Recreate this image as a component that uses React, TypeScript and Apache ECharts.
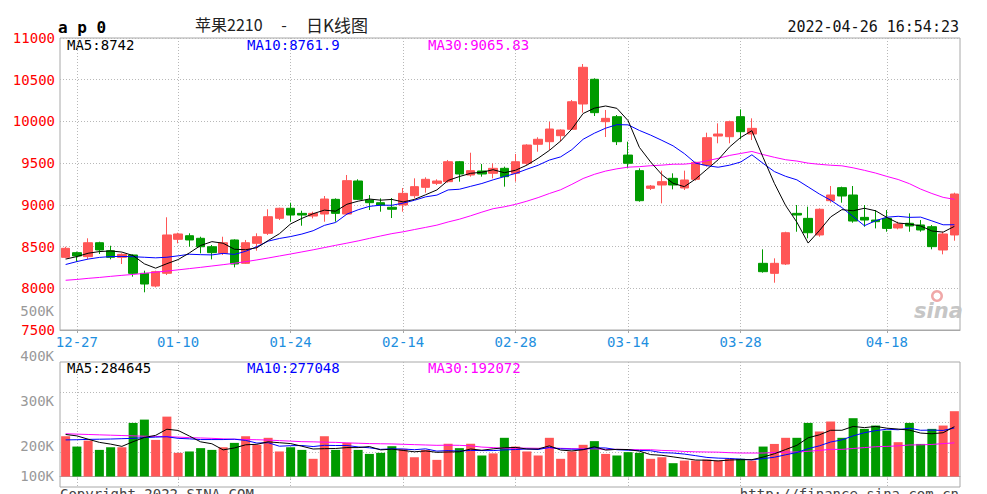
import React, { useEffect, useRef } from 'react';
import * as echarts from 'echarts';

// ---------- data ----------
const dates = [
  '12-24', '12-27', '12-28', '12-29', '12-30', '12-31', '01-04', '01-05', '01-06', '01-07',
  '01-10', '01-11', '01-12', '01-13', '01-14', '01-17', '01-18', '01-19', '01-20', '01-21',
  '01-24', '01-25', '01-26', '01-27', '01-28', '02-07', '02-08', '02-09', '02-10', '02-11',
  '02-14', '02-15', '02-16', '02-17', '02-18', '02-21', '02-22', '02-23', '02-24', '02-25',
  '02-28', '03-01', '03-02', '03-03', '03-04', '03-07', '03-08', '03-09', '03-10', '03-11',
  '03-14', '03-15', '03-16', '03-17', '03-18', '03-21', '03-22', '03-23', '03-24', '03-25',
  '03-28', '03-29', '03-30', '03-31', '04-01', '04-06', '04-07', '04-08', '04-11', '04-12',
  '04-13', '04-14', '04-15', '04-18', '04-19', '04-20', '04-21', '04-22', '04-25', '04-26',
];

const dateTicks = ['12-27', '01-10', '01-24', '02-14', '02-28', '03-14', '03-28', '04-18'];

const opens = [
  8371, 8427, 8379, 8546, 8450, 8371, 8399, 8179, 8027, 8180,
  8587, 8630, 8599, 8498, 8419, 8579, 8299, 8539, 8659, 8839,
  8959, 8898, 8866, 8890, 9066, 8890, 9286, 9058, 9026, 8971,
  8998, 9110, 9210, 9258, 9278, 9517, 9358, 9406, 9378, 9438,
  9378, 9498, 9726, 9757, 9829, 9906, 10209, 10505, 9997, 10057,
  9597, 9410, 9198, 9238, 9318, 9202, 9306, 9478, 9825, 9817,
  10057, 9849, 8299, 8179, 8291, 8898, 8838, 8639, 9050, 9206,
  9118, 8850, 8818, 8838, 8723, 8779, 8759, 8738, 8459, 8639,
];
const closes = [
  8479, 8387, 8546, 8459, 8371, 8407, 8179, 8051, 8199, 8639,
  8651, 8579, 8498, 8427, 8546, 8291, 8546, 8618, 8858, 8959,
  8878, 8878, 8898, 9070, 8898, 9290, 9066, 9026, 8998, 8947,
  9138, 9218, 9306, 9286, 9517, 9370, 9410, 9370, 9438, 9338,
  9517, 9717, 9786, 9909, 9897, 10236, 10649, 10105, 10037, 9757,
  9498, 9050, 9226, 9278, 9238, 9298, 9510, 9805, 9849, 9997,
  9877, 9917, 8199, 8299, 8666, 8878, 8666, 8947, 9118, 9106,
  8806, 8818, 8798, 8718, 8771, 8747, 8699, 8499, 8651, 9130,
];
const lows = [
  8359, 8319, 8351, 8411, 8347, 8291, 8139, 7952, 8011, 8159,
  8539, 8498, 8419, 8347, 8399, 8251, 8291, 8450, 8639, 8818,
  8798, 8750, 8838, 8798, 8798, 8878, 9058, 8938, 8918, 8842,
  8918, 9078, 9146, 9238, 9266, 9278, 9338, 9338, 9318, 9218,
  9278, 9478, 9637, 9658, 9757, 9897, 10105, 10065, 9813, 9717,
  9438, 9038, 9178, 9018, 9186, 9178, 9290, 9458, 9738, 9738,
  9786, 9777, 8187, 8067, 8279, 8678, 8599, 8618, 9026, 9026,
  8786, 8738, 8718, 8678, 8707, 8678, 8678, 8467, 8407, 8570,
];
const highs = [
  8498, 8439, 8599, 8558, 8510, 8419, 8407, 8211, 8211, 8851,
  8666, 8659, 8618, 8519, 8618, 8587, 8579, 8659, 8947, 8966,
  9026, 8930, 8918, 9106, 9078, 9358, 9306, 9118, 9078, 9082,
  9202, 9318, 9330, 9306, 9538, 9526, 9625, 9490, 9498, 9458,
  9610, 9726, 9810, 9997, 9905, 10257, 10688, 10517, 10137, 10077,
  9757, 9438, 9238, 9410, 9378, 9410, 9517, 9865, 9977, 10009,
  10145, 10037, 8467, 8359, 8678, 8998, 8978, 8958, 9226, 9218,
  9226, 8998, 8938, 8938, 8798, 8898, 8818, 8758, 8678, 9146,
];

const ma5 = [
  8350, 8380, 8420, 8440, 8448, 8434, 8392, 8293, 8241, 8295,
  8344, 8424, 8513, 8559, 8540, 8468, 8462, 8486, 8572, 8654,
  8772, 8838, 8894, 8937, 8924, 9007, 9044, 9070, 9056, 9065,
  9035, 9065, 9121, 9179, 9293, 9339, 9378, 9391, 9421, 9385,
  9415, 9476, 9559, 9653, 9765, 9909, 10095, 10159, 10185, 10157,
  10009, 9689, 9514, 9362, 9258, 9218, 9310, 9426, 9540, 9692,
  9808, 9889, 9568, 9258, 8992, 8792, 8542, 8691, 8855, 8943,
  8929, 8959, 8929, 8849, 8782, 8770, 8747, 8687, 8673, 8742,
];
const ma10 = [
  8285, 8320, 8350, 8370, 8380, 8382, 8378, 8372, 8365, 8372,
  8389, 8408, 8403, 8400, 8418, 8406, 8443, 8499, 8565, 8597,
  8620, 8650, 8690, 8754, 8789, 8889, 8941, 8982, 8996, 8995,
  9021, 9055, 9096, 9117, 9179, 9187, 9222, 9256, 9300, 9339,
  9377, 9427, 9475, 9537, 9575, 9662, 9786, 9859, 9919, 9961,
  9959, 9892, 9836, 9773, 9707, 9614, 9500, 9470, 9451, 9475,
  9513, 9600, 9497, 9399, 9342, 9300, 9215, 9130, 9056, 8967,
  8860, 8750, 8810, 8852, 8863, 8850, 8853, 8808, 8761, 8761.9,
];
const ma30 = [
  8096, 8106, 8119, 8130, 8143, 8155, 8166, 8179, 8193, 8207,
  8221, 8236, 8251, 8267, 8283, 8300, 8319, 8340, 8363, 8387,
  8411, 8436, 8461, 8488, 8515, 8541, 8568, 8598, 8627, 8655,
  8677, 8704, 8730, 8757, 8795, 8828, 8869, 8913, 8954, 8977,
  9006, 9044, 9087, 9136, 9181, 9246, 9316, 9366, 9405, 9432,
  9452, 9458, 9469, 9476, 9487, 9488, 9502, 9528, 9557, 9592,
  9616, 9640, 9603, 9570, 9541, 9525, 9500, 9486, 9475, 9468,
  9444, 9414, 9381, 9341, 9304, 9254, 9189, 9136, 9090, 9065.83,
];

// volumes in thousands (K)
const volumes = [
  230, 171, 205, 152, 167, 167, 306, 325, 209, 342,
  135, 143, 162, 152, 167, 192, 230, 181, 221, 143,
  167, 152, 101, 230, 152, 192, 152, 129, 135, 173,
  158, 110, 152, 95, 187, 162, 187, 120, 132, 221,
  171, 143, 120, 221, 101, 143, 181, 202, 129, 120,
  139, 135, 101, 110, 76, 91, 91, 97, 91, 101,
  101, 91, 171, 186, 221, 221, 306, 257, 314, 221,
  333, 272, 291, 262, 196, 306, 186, 272, 291, 373,
];
const volMa5 = [
  240, 232, 213, 195, 185, 172, 199, 223, 235, 270,
  263, 231, 198, 187, 152, 163, 181, 184, 198, 193,
  188, 173, 157, 159, 160, 165, 165, 171, 152, 156,
  149, 141, 146, 138, 140, 141, 157, 150, 158, 164,
  166, 157, 157, 175, 151, 146, 153, 170, 151, 155,
  154, 145, 125, 121, 112, 103, 94, 93, 89, 94,
  96, 96, 111, 130, 154, 178, 221, 238, 264, 264,
  286, 279, 286, 276, 271, 265, 248, 244, 250, 284.645,
];
const volMa10 = [
  209, 210, 212, 213, 214, 216, 218, 222, 225, 227,
  218, 215, 211, 211, 211, 213, 206, 191, 193, 173,
  176, 177, 171, 178, 177, 177, 169, 164, 155, 158,
  157, 153, 158, 145, 148, 145, 149, 148, 148, 152,
  154, 157, 154, 166, 158, 156, 155, 164, 163, 153,
  150, 149, 147, 136, 134, 128, 119, 109, 105, 103,
  99, 95, 102, 110, 124, 137, 159, 175, 197, 209,
  232, 250, 262, 270, 267, 276, 264, 265, 263, 277.048,
];
const volMa30 = [
  244, 242, 240, 238, 236, 234, 232, 230, 229, 228,
  225, 222, 220, 218, 215, 213, 211, 210, 208, 205,
  202, 199, 198, 196, 195, 192, 190, 188, 187, 186,
  184, 182, 180, 178, 179, 178, 175, 168, 165, 161,
  162, 162, 161, 163, 161, 159, 158, 158, 155, 155,
  154, 153, 153, 149, 147, 143, 141, 140, 139, 136,
  134, 134, 134, 137, 139, 140, 144, 149, 155, 155,
  160, 165, 170, 172, 175, 180, 181, 183, 188, 192.072,
];

// axis settings
const priceMin = 7500;
const priceMax = 11000;
const priceStep = 500;
const volMin = -60;
const volMax = 654;
const volGuides = [136, 307, 479];
const volLabelMin = 100;
const volLabelMax = 500;
const volLabelStep = 100;

const symbolName = 'a p 0';
const titleLeft = '苹果2210';
const titleDash = '-';
const titleRight = '日K线图';
const timestamp = '2022-04-26 16:54:23';
const copyright = 'Copyright 2022 SINA.COM';
const siteUrl = 'http://finance.sina.com.cn';

// ---------- styles ----------
const UP = '#ff5656';
const DOWN = '#009a00';
const MONO = "'DejaVu Sans Mono', monospace";
const GRID_LINE = { color: '#b8b8b8', type: [1, 2], width: 1 };
const BORDER = '#a8a8a8';

const showDate = (_i: number, v: string) => dateTicks.indexOf(v) >= 0;

function txt(text: string, x: number, y: number, font: string, fill: string, align = 'left', vAlign = 'middle') {
  return {
    type: 'text',
    x,
    y,
    silent: true,
    style: {
      text,
      font,
      fill,
      align,
      verticalAlign: vAlign,
      textAlign: align,
      textVerticalAlign: vAlign,
    },
  };
}

const last = (a: number[]) => a[a.length - 1];

export default function App() {
  const ref = useRef<HTMLDivElement>(null);

  useEffect(() => {
    if (!ref.current) return;
    const chart = echarts.init(ref.current, null, { renderer: 'svg' });

    const candleData = dates.map((_, i) => [opens[i], closes[i], lows[i], highs[i]]);
    const volData = volumes.map((v, i) => ({
      value: v,
      itemStyle: { color: closes[i] >= opens[i] ? UP : DOWN },
    }));

    const lineSeries = (data: number[], color: string, xi: number, yi: number) => ({
      type: 'line',
      xAxisIndex: xi,
      yAxisIndex: yi,
      data,
      symbol: 'none',
      showSymbol: false,
      silent: true,
      lineStyle: { color, width: 1 },
      z: 3,
    });

    const option: any = {
      animation: false,
      backgroundColor: '#ffffff',
      grid: [
        { left: 60, top: 38, width: 900, height: 292, show: true, borderColor: BORDER, borderWidth: 1 },
        { left: 60, top: 362, width: 900, height: 125, show: true, borderColor: BORDER, borderWidth: 1 },
        { left: 60, top: 314, width: 900, height: 180, show: false },
      ],
      xAxis: [
        {
          type: 'category',
          gridIndex: 0,
          data: dates,
          boundaryGap: true,
          axisLine: { show: true, lineStyle: { color: BORDER } },
          axisTick: { show: true, interval: showDate, alignWithLabel: true, length: 3, lineStyle: { color: BORDER } },
          axisLabel: { interval: showDate, color: '#1e8fe0', fontFamily: MONO, fontSize: 14, margin: 5 },
          splitLine: { show: true, interval: showDate, alignWithLabel: true, lineStyle: GRID_LINE },
        },
        {
          type: 'category',
          gridIndex: 1,
          data: dates,
          boundaryGap: true,
          axisLine: { show: true, lineStyle: { color: BORDER } },
          axisTick: { show: true, interval: showDate, alignWithLabel: true, length: 4, lineStyle: { color: BORDER, type: [1, 1] } },
          axisLabel: { show: false },
          splitLine: { show: true, interval: showDate, alignWithLabel: true, lineStyle: GRID_LINE },
        },
        { type: 'category', gridIndex: 2, data: dates, show: false },
      ],
      yAxis: [
        {
          type: 'value',
          gridIndex: 0,
          min: priceMin,
          max: priceMax,
          interval: priceStep,
          axisLine: { show: false },
          axisTick: { show: false },
          axisLabel: {
            color: '#ff0000',
            fontFamily: MONO,
            fontSize: 14,
            margin: 5,
            padding: [0, 0, 6, 0],
            formatter: (v: number) => String(v),
          },
          splitLine: { show: true, lineStyle: GRID_LINE },
        },
        {
          type: 'value',
          gridIndex: 1,
          min: volMin,
          max: volMax,
          axisLine: { show: false },
          axisTick: { show: false },
          axisLabel: { show: false },
          splitLine: { show: false },
        },
        {
          type: 'value',
          gridIndex: 2,
          min: volLabelMin,
          max: volLabelMax,
          interval: volLabelStep,
          axisLine: { show: false },
          axisTick: { show: false },
          splitLine: { show: false },
          axisLabel: {
            color: '#999999',
            fontFamily: MONO,
            fontSize: 14,
            margin: 6,
            padding: [0, 0, 6, 0],
            formatter: (v: number) => (v === volLabelMin ? `{low|${v}K}` : `${v}K`),
            rich: {
              low: { padding: [0, 0, 30, 0], color: '#999999', fontFamily: MONO, fontSize: 14 },
            },
          },
        },
      ],
      series: [
        {
          type: 'candlestick',
          xAxisIndex: 0,
          yAxisIndex: 0,
          data: candleData,
          barWidth: 9,
          silent: true,
          itemStyle: { color: UP, color0: DOWN, borderColor: UP, borderColor0: DOWN, borderWidth: 1 },
        },
        lineSeries(ma30, '#ff00ff', 0, 0),
        lineSeries(ma10, '#0000ff', 0, 0),
        lineSeries(ma5, '#000000', 0, 0),
        {
          type: 'bar',
          xAxisIndex: 1,
          yAxisIndex: 1,
          data: volData,
          barWidth: 9,
          silent: true,
          markLine: {
            silent: true,
            z: 1,
            symbol: 'none',
            label: { show: false },
            lineStyle: GRID_LINE,
            data: volGuides.map((v) => ({ yAxis: v })),
          },
        },
        lineSeries(volMa30, '#ff00ff', 1, 1),
        lineSeries(volMa10, '#0000ff', 1, 1),
        lineSeries(volMa5, '#000000', 1, 1),
      ],
      graphic: [
        txt(symbolName, 58, 27, `bold 16px ${MONO}`, '#000000'),
        txt(titleLeft, 195, 24, "16px 'Noto Sans CJK SC', sans-serif", '#222222'),
        txt(titleDash, 284, 24, "16px 'Noto Sans CJK SC', sans-serif", '#222222', 'center'),
        txt(titleRight, 306, 24, "17px 'Noto Sans CJK SC', sans-serif", '#222222'),
        txt(timestamp, 959, 27, `15px ${MONO}`, '#111111', 'right'),
        txt(`MA5:${last(ma5)}`, 67, 45, `14px ${MONO}`, '#000000'),
        txt(`MA10:${last(ma10)}`, 247, 45, `14px ${MONO}`, '#0000ff'),
        txt(`MA30:${last(ma30)}`, 428, 45, `14px ${MONO}`, '#ff00ff'),
        txt(`MA5:${Math.round(last(volMa5) * 1000)}`, 67, 368, `14px ${MONO}`, '#000000'),
        txt(`MA10:${Math.round(last(volMa10) * 1000)}`, 247, 368, `14px ${MONO}`, '#0000ff'),
        txt(`MA30:${Math.round(last(volMa30) * 1000)}`, 428, 368, `14px ${MONO}`, '#ff00ff'),
        txt(copyright, 60, 487, `14px ${MONO}`, '#444444', 'left', 'top'),
        txt(siteUrl, 959, 487, `14px ${MONO}`, '#444444', 'right', 'top'),
        {
          type: 'ring',
          silent: true,
          shape: { cx: 937, cy: 296, r: 6, r0: 3.5 },
          style: { fill: '#f0a8a8' },
        },
        txt('sina', 914, 311, "italic bold 21px 'DejaVu Sans', sans-serif", '#c6c6c6'),
      ],
    };

    chart.setOption(option);
    return () => chart.dispose();
  }, []);

  return (
    <div
      ref={ref}
      style={{ position: 'absolute', left: 0, top: 0, width: 987, height: 494 }}
    />
  );
}
